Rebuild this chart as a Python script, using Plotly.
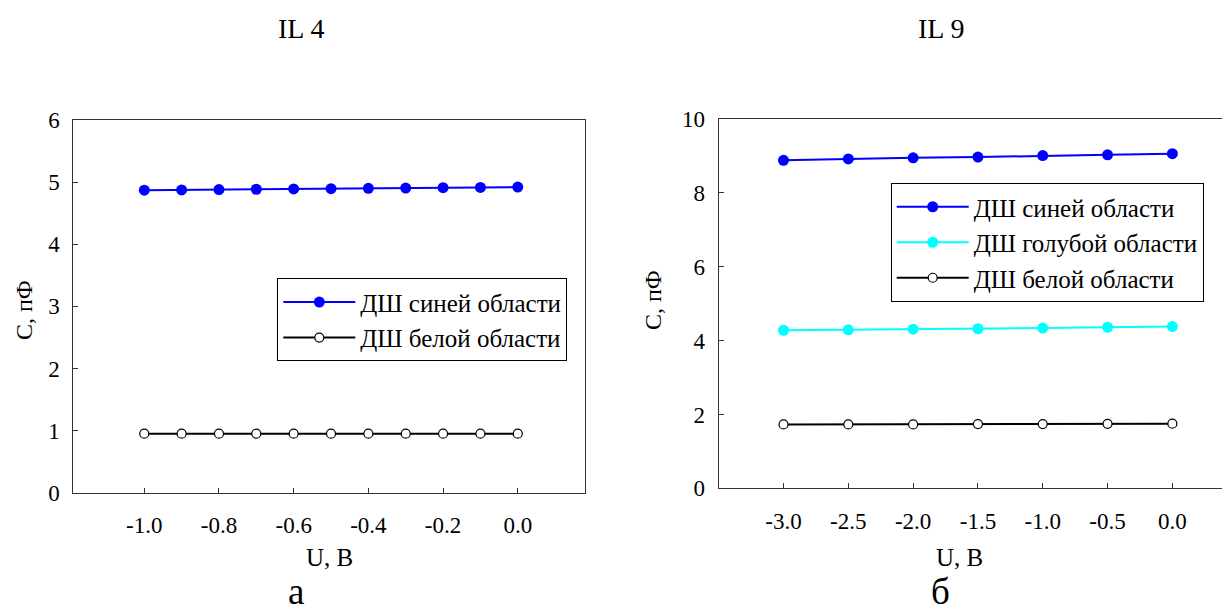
import plotly.graph_objects as go

# Panel (а): IL 4
u_il4 = [-1.0, -0.9, -0.8, -0.7, -0.6, -0.5, -0.4, -0.3, -0.2, -0.1, 0.0]
c_il4_blue = [4.87, 4.875, 4.88, 4.885, 4.89, 4.895, 4.90, 4.905, 4.91, 4.915, 4.92]
c_il4_white = [0.95, 0.95, 0.95, 0.95, 0.95, 0.95, 0.95, 0.95, 0.95, 0.95, 0.95]

# Panel (б): IL 9
u_il9 = [-3.0, -2.5, -2.0, -1.5, -1.0, -0.5, 0.0]
c_il9_blue = [8.88, 8.92, 8.95, 8.97, 9.01, 9.03, 9.06]
c_il9_cyan = [4.28, 4.29, 4.31, 4.32, 4.34, 4.36, 4.38]
c_il9_white = [1.73, 1.73, 1.73, 1.74, 1.74, 1.745, 1.75]

name_blue = "ДШ синей области"
name_cyan = "ДШ голубой области"
name_white = "ДШ белой области"

FONT = "'Liberation Serif', 'Times New Roman', 'DejaVu Serif', serif"
W, H = 1222, 614

fig = go.Figure()

blue_marker = dict(symbol="circle", size=11, color="#0000ff", line=dict(width=0))
cyan_marker = dict(symbol="circle", size=11, color="#00ffff", line=dict(width=0))
white_marker = dict(symbol="circle", size=9, color="white", line=dict(width=1.2, color="black"))

fig.add_trace(go.Scatter(x=u_il4, y=c_il4_blue, mode="lines+markers", name=name_blue,
                         line=dict(color="#0000ff", width=2), marker=blue_marker,
                         xaxis="x", yaxis="y", legend="legend"))
fig.add_trace(go.Scatter(x=u_il4, y=c_il4_white, mode="lines+markers", name=name_white,
                         line=dict(color="black", width=2), marker=white_marker,
                         xaxis="x", yaxis="y", legend="legend"))

fig.add_trace(go.Scatter(x=u_il9, y=c_il9_blue, mode="lines+markers", name=name_blue,
                         line=dict(color="#0000ff", width=2), marker=blue_marker,
                         xaxis="x2", yaxis="y2", legend="legend2"))
fig.add_trace(go.Scatter(x=u_il9, y=c_il9_cyan, mode="lines+markers", name=name_cyan,
                         line=dict(color="#00ffff", width=2), marker=cyan_marker,
                         xaxis="x2", yaxis="y2", legend="legend2"))
fig.add_trace(go.Scatter(x=u_il9, y=c_il9_white, mode="lines+markers", name=name_white,
                         line=dict(color="black", width=2), marker=white_marker,
                         xaxis="x2", yaxis="y2", legend="legend2"))

axis_common = dict(
    showgrid=False, zeroline=False, showline=True, linecolor="#333333", linewidth=1,
    mirror=True, ticks="inside", ticklen=5, tickcolor="#333333", automargin=False,
    tickfont=dict(family=FONT, size=23, color="black"),
)

legend_common = dict(
    xanchor="left", yanchor="top", bgcolor="white", bordercolor="black", borderwidth=1,
    font=dict(family=FONT, size=25, color="black"), itemwidth=72, tracegroupgap=0,
)

fig.update_layout(
    width=W, height=H,
    margin=dict(l=0, r=0, t=0, b=0, autoexpand=False),
    paper_bgcolor="white", plot_bgcolor="white",
    font=dict(family=FONT, color="black"),
    xaxis=dict(axis_common, domain=[73.3 / W, 585 / W], range=[-1.19, 0.18],
               tickvals=[-1.0, -0.8, -0.6, -0.4, -0.2, 0.0],
               ticktext=["-1.0", "-0.8", "-0.6", "-0.4", "-0.2", "0.0"],
               ticklabelstandoff=12, anchor="y"),
    yaxis=dict(axis_common, domain=[1 - 492.7 / H, 1 - 120 / H], range=[0, 6],
               tickvals=[0, 1, 2, 3, 4, 5, 6], ticklabelstandoff=8, anchor="x"),
    xaxis2=dict(axis_common, domain=[718.7 / W, 1.0], range=[-3.5, 0.383],
                tickvals=[-3.0, -2.5, -2.0, -1.5, -1.0, -0.5, 0.0],
                ticktext=["-3.0", "-2.5", "-2.0", "-1.5", "-1.0", "-0.5", "0.0"],
                ticklabelstandoff=12, anchor="y2"),
    yaxis2=dict(axis_common, domain=[1 - 488.3 / H, 1 - 119 / H], range=[0, 10],
                tickvals=[0, 2, 4, 6, 8, 10], ticklabelstandoff=8, anchor="x2"),
    legend=dict(legend_common, x=277.3 / W, y=1 - 278.3 / H),
    legend2=dict(legend_common, x=890.7 / W, y=1 - 183 / H),
    showlegend=True,
)

def text(x, y, s, size, yanchor="middle"):
    fig.add_annotation(x=x / W, y=1 - y / H, xref="paper", yref="paper", text=s,
                       showarrow=False, xanchor="center", yanchor=yanchor,
                       font=dict(family=FONT, size=size, color="black"))

text(301, 28, "IL 4", 28)
text(941, 28, "IL 9", 28)
text(329, 557, "U, В", 25)
text(959, 557, "U, В", 25)
text(296, 614, "а", 37, yanchor="bottom")
text(940, 614, "б", 37, yanchor="bottom")

# rotated y-axis titles
for xpix, ypix in [(24, 310), (653, 300)]:
    fig.add_annotation(x=xpix / W, y=1 - ypix / H, xref="paper", yref="paper",
                       text="C, пФ", showarrow=False, textangle=-90,
                       xanchor="center", yanchor="middle",
                       font=dict(family=FONT, size=24, color="black"))

fig.write_html("out.html")
